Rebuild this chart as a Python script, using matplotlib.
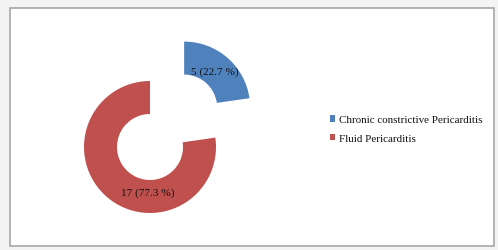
import matplotlib
matplotlib.use("Agg")
import matplotlib.pyplot as plt
from matplotlib.patches import Rectangle
import numpy as np

# data
categories = ["Chronic constrictive Pericarditis", "Fluid Pericarditis"]
counts = [5, 17]
percents = [22.7, 77.3]
colors = ["#4F81BD", "#C0504D"]

W, H = 498, 251
fig = plt.figure(figsize=(W / 100, H / 100), dpi=100)
fig.patch.set_facecolor("#f4f4f4")

# white chart area with grey frame
fig.patches.append(Rectangle((10 / W, 1 - 247 / H), 484 / W, 238 / H,
                             transform=fig.transFigure, facecolor="white",
                             edgecolor="#a6a6a6", lw=1.2, zorder=-1))

plt.rcParams["font.family"] = ["Liberation Serif", "DejaVu Serif"]

ax = fig.add_axes([0, 0, 1, 1], zorder=2)
ax.patch.set_alpha(0)

R = 66.0  # radius in px
cx, cy = 150, H - 148
explode = [0.79, 0]

wedges, _ = ax.pie(counts, colors=colors, startangle=90, counterclock=False,
                   explode=explode, radius=1,
                   wedgeprops=dict(width=0.5, edgecolor="none"))
ax.set_xlim(-cx / R, (W - cx) / R)
ax.set_ylim(-cy / R, (H - cy) / R)
ax.set_aspect("equal", adjustable="box")

# data labels
ang_blue = np.deg2rad(90 - percents[0] / 100 * 360 / 2)
bx = explode[0] * np.cos(ang_blue) + 0.72 * np.cos(ang_blue)
by = explode[0] * np.sin(ang_blue) + 0.72 * np.sin(ang_blue)
ax.text(bx, by, f"{counts[0]} ({percents[0]} %)", ha="center", va="center",
        fontsize=8.1, color="#111111")
ang_red = np.deg2rad(-93)
ax.text(0.69 * np.cos(ang_red), 0.69 * np.sin(ang_red),
        f"{counts[1]} ({percents[1]} %)", ha="center", va="center",
        fontsize=8.1, color="#111111")

leg = ax.legend(wedges, categories, loc="center left",
                bbox_to_anchor=(320 / W, 1 - 130 / H), frameon=False,
                fontsize=7.9, handlelength=0.5, handleheight=0.5,
                handletextpad=0.3, labelspacing=0.85)
for t in leg.get_texts():
    t.set_color("#111111")

fig.savefig("out.png", dpi=100, facecolor=fig.get_facecolor())
